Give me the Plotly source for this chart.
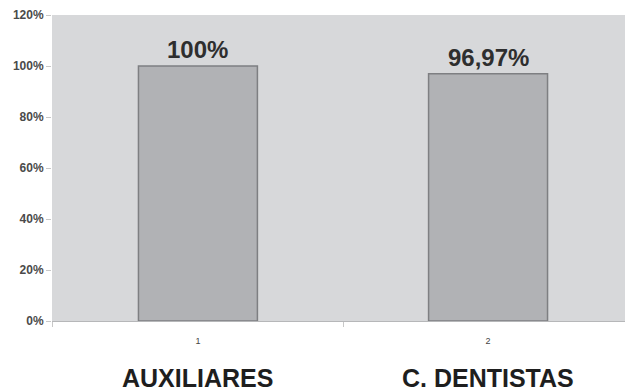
import plotly.graph_objects as go

# Share of respondents per group
tick_labels = ["1", "2"]
groups = ["AUXILIARES", "C. DENTISTAS"]
values = [100.0, 96.97]
y_ticks = [0, 20, 40, 60, 80, 100, 120]


def pct_label(v):
    # Portuguese number format: comma as decimal separator
    if float(v).is_integer():
        return f"{int(v)}%"
    return f"{v:.2f}".replace(".", ",") + "%"


FONT = "Liberation Sans, Arial, sans-serif"

fig = go.Figure(
    go.Bar(
        x=tick_labels,
        y=values,
        width=0.41,
        marker=dict(color="#b1b2b5", line=dict(color="#7e7f82", width=1.5)),
        hoverinfo="skip",
    )
)

annotations = []
# category axis positions are the indices of the categories
for i, v in enumerate(values):
    annotations.append(dict(
        x=i, y=v, xref="x", yref="y", text=f"<b>{pct_label(v)}</b>",
        showarrow=False, yanchor="bottom", yshift=1,
        font=dict(family=FONT, size=24, color="#2e2e2e"),
    ))
for i, name in enumerate(groups):
    annotations.append(dict(
        x=i, y=0, xref="x", yref="paper", text=f"<b>{name}</b>",
        showarrow=False, yanchor="top", yshift=-41,
        font=dict(family=FONT, size=25, color="#1e1e1e"),
    ))

fig.update_layout(
    width=625, height=388,
    margin=dict(l=52, r=0, t=15, b=67),
    paper_bgcolor="white",
    plot_bgcolor="#d7d8da",
    showlegend=False,
    annotations=annotations,
)
fig.update_xaxes(
    type="category", range=[-0.503, 1.472],
    tickson="boundaries", ticks="outside", ticklen=5, tickcolor="#c8c8c8",
    showline=True, linecolor="#b6b7b9", linewidth=1,
    showgrid=False, zeroline=False,
    ticklabelstandoff=11,
    tickfont=dict(family=FONT, size=9, color="#444"),
)
fig.update_yaxes(
    range=[0, 120], tickvals=y_ticks,
    ticktext=[f"<b>{t}%</b>" for t in y_ticks],
    ticks="outside", ticklen=5, tickcolor="#c8c8c8",
    showgrid=False, zeroline=False, showline=False,
    tickfont=dict(family=FONT, size=12, color="#4a4a4a"),
)

fig.write_html("out.html")
